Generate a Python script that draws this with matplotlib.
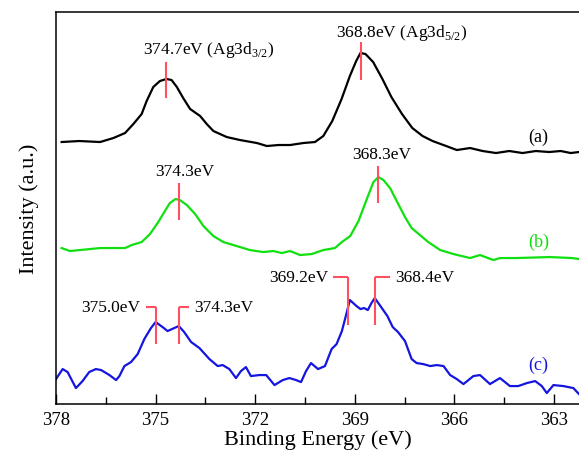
import numpy as np
import matplotlib
matplotlib.use("Agg")
from matplotlib import pyplot as plt
from matplotlib.ticker import MultipleLocator

plt.rcParams["font.family"] = ["Liberation Serif", "DejaVu Serif"]
plt.rcParams["mathtext.fontset"] = "custom"
plt.rcParams["mathtext.rm"] = "Liberation Serif"

# Ag 3d spectra, stacked (arbitrary intensity units, offsets included)
energy_a = [377.83, 377.30, 376.67, 376.27, 375.92, 375.67, 375.42, 375.27, 375.07,
            374.87, 374.67, 374.52, 374.36, 374.17, 373.96, 373.66, 373.46, 373.26,
            372.86, 372.46, 371.95, 371.65, 371.30, 370.95, 370.55, 370.20, 369.95,
            369.68, 369.40, 369.15, 368.96, 368.83, 368.68, 368.45, 368.17, 367.90,
            367.58, 367.27, 366.96, 366.66, 366.25, 365.93, 365.53, 365.15, 364.75,
            364.35, 363.95, 363.55, 363.15, 362.80, 362.50, 362.25]
intensity_a = [262, 263, 262, 266, 271, 280, 290, 303, 317,
               323, 325, 324, 317, 306, 295, 288, 280, 273,
               267, 264, 261, 258, 259, 259, 261, 262, 268,
               283, 305, 328, 343, 351, 350, 342, 325, 307,
               290, 276, 268, 263, 258, 254, 256, 253, 251,
               253, 251, 253, 252, 253, 251, 252]

energy_b = [377.83, 377.58, 376.67, 376.37, 375.92, 375.72, 375.42, 375.17, 374.92,
            374.72, 374.57, 374.40, 374.27, 374.06, 373.81, 373.56, 373.26, 372.96,
            372.56, 372.16, 371.76, 371.45, 371.20, 370.95, 370.65, 370.30, 369.95,
            369.60, 369.39, 369.14, 368.89, 368.64, 368.44, 368.29, 368.14, 367.94,
            367.74, 367.49, 367.29, 367.04, 366.79, 366.43, 366.03, 365.53, 365.23,
            364.83, 364.63, 364.12, 363.13, 362.46, 362.25]
intensity_b = [156, 153, 156, 156, 156, 159, 162, 170, 182,
               193, 201, 205, 204, 199, 190, 178, 168, 162,
               158, 154, 152, 153, 151, 153, 149, 150, 154,
               156, 162, 168, 183, 205, 222, 227, 224, 216,
               203, 187, 176, 169, 162, 154, 150, 146, 149,
               144, 146, 146, 147, 146, 145]

energy_c = [378.00, 377.80, 377.65, 377.40, 377.20, 377.00, 376.80, 376.64, 376.39,
            376.19, 376.09, 375.94, 375.74, 375.54, 375.34, 375.14, 375.00, 374.79,
            374.64, 374.44, 374.30, 374.14, 373.93, 373.68, 373.38, 373.13, 372.98,
            372.78, 372.58, 372.43, 372.28, 372.13, 371.88, 371.67, 371.42, 371.17,
            370.97, 370.77, 370.62, 370.47, 370.32, 370.11, 369.90, 369.70, 369.55,
            369.39, 369.28, 369.15, 368.95, 368.83, 368.72, 368.61, 368.50, 368.40,
            368.23, 368.02, 367.86, 367.70, 367.49, 367.29, 367.14, 366.94, 366.73,
            366.53, 366.33, 366.13, 365.93, 365.73, 365.43, 365.23, 364.93, 364.63,
            364.33, 364.08, 363.82, 363.57, 363.37, 363.22, 363.02, 362.72, 362.42,
            362.25]
intensity_c = [25, 35, 32, 16, 23, 32, 35, 34, 29,
               24, 28, 38, 42, 50, 65, 76, 82, 77,
               73, 76, 78, 72, 62, 56, 45, 38, 39,
               35, 26, 33, 37, 28, 29, 29, 19, 24,
               26, 24, 22, 33, 41, 35, 38, 55, 60,
               73, 87, 104, 98, 95, 96, 94, 101, 106,
               98, 88, 77, 72, 63, 45, 41, 40, 38,
               39, 38, 29, 25, 20, 28, 29, 20, 26,
               18, 18, 21, 23, 18, 11, 19, 18, 16,
               10]

# peak positions (eV) and their labels
peaks_a = [374.7, 368.8]
labels_a = ["374.7eV (Ag3d$_{\\mathrm{3/2}}$)", "368.8eV (Ag3d$_{\\mathrm{5/2}}$)"]
peaks_b = [374.3, 368.3]
labels_b = ["374.3eV", "368.3eV"]
peaks_c = [375.0, 374.3, 369.2, 368.4]
labels_c = ["375.0eV", "374.3eV", "369.2eV", "368.4eV"]

RED = "#ff5060"
GREEN = "#10e010"
BLUE = "#1515e0"

fig = plt.figure(figsize=(5.79, 4.64), dpi=100)
ax = fig.add_axes([0.0967, 0.127, 0.9033, 0.845])

ax.plot(energy_a, intensity_a, color="black", lw=1.6)
ax.plot(energy_b, intensity_b, color=GREEN, lw=1.6)
ax.plot(energy_c, intensity_c, color=BLUE, lw=1.6)

# single peak markers: (lower, upper) extent around the curve
for e, lab, (lo, hi), (tx, ty) in zip(peaks_a, labels_a,
                                      [(-19, 17), (-27, 11)],
                                      [(373.39, 355), (367.58, 372)]):
    yc = np.interp(e, energy_a[::-1], intensity_a[::-1])
    ax.vlines(e, yc + lo, yc + hi, color=RED, lw=1.5)
    ax.text(tx, ty, lab, ha="center", va="center", fontsize=12.5)

for e, lab, (lo, hi), (tx, ty) in zip(peaks_b, labels_b,
                                      [(-20, 17), (-26, 11)],
                                      [(374.11, 233), (368.19, 250)]):
    yc = np.interp(e, energy_b[::-1], intensity_b[::-1])
    ax.vlines(e, yc + lo, yc + hi, color=RED, lw=1.5)
    ax.text(tx, ty, lab, ha="center", va="center", fontsize=12.5)

# bracket markers for the split peaks in (c)
for i, (e, lab) in enumerate(zip(peaks_c, labels_c)):
    left = i % 2 == 0
    y0, y1 = (60, 97) if i < 2 else (79, 127)
    arm = 0.3 if i < 2 else 0.45
    ax.vlines(e, y0, y1, color=RED, lw=1.5)
    ax.hlines(y1, e + arm if left else e - arm, e, color=RED, lw=1.5)
    gap = 0.45 if i < 2 else 0.6
    ax.text(e + gap if left else e - gap, y1, lab,
            ha="right" if left else "left", va="center", fontsize=12.5)

ax.text(363.48, 268, "(a)", color="black", ha="center", va="center", fontsize=13)
ax.text(363.45, 163, "(b)", color=GREEN, ha="center", va="center", fontsize=13)
ax.text(363.48, 40, "(c)", color=BLUE, ha="center", va="center", fontsize=13)

ax.set_xlim(378, 362.25)
ax.set_ylim(0, 392)
ax.xaxis.set_major_locator(MultipleLocator(3))
ax.xaxis.set_minor_locator(MultipleLocator(1.5))
ax.tick_params(axis="x", which="major", direction="in", length=7, width=1,
               labelsize=13.5, pad=5)
ax.tick_params(axis="x", which="minor", direction="in", length=5, width=1)
ax.set_yticks([])
ax.spines["right"].set_visible(False)
for s in ("left", "top", "bottom"):
    ax.spines[s].set_linewidth(1.1)

ax.set_xlabel("Binding Energy (eV)", fontsize=16, labelpad=1)
ax.set_ylabel("Intensity (a.u.)", fontsize=16, labelpad=12)

fig.savefig("out.png", dpi=100)
